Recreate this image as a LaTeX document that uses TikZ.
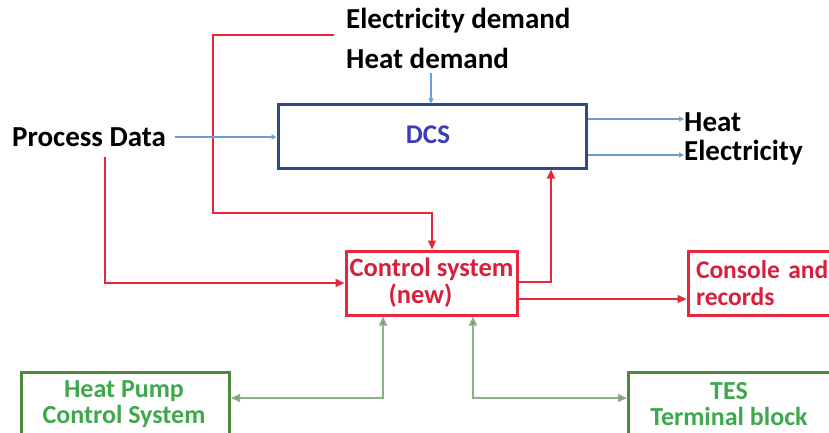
\documentclass[tikz,border=0pt]{standalone}
\usepackage{fontspec}
\setmainfont{Carlito}
\usetikzlibrary{arrows.meta}
\definecolor{cred}{HTML}{E8283A}
\definecolor{ctxtred}{HTML}{D8203C}
\definecolor{cblue}{HTML}{6A9FD4}
\definecolor{cdcs}{HTML}{2F4B8C}
\definecolor{cdcstxt}{HTML}{3B3CB8}
\definecolor{cgbox}{HTML}{4E8A3E}
\definecolor{cgtxt}{HTML}{3DA84C}
\definecolor{cgline}{HTML}{8FAF86}
\tikzset{
  lbl/.style={anchor=west, inner sep=0pt, font=\bfseries\fontsize{29}{33}\selectfont, text=black},
  redbox/.style={draw=cred, line width=3pt, inner sep=0pt, text=ctxtred, font=\bfseries\fontsize{26.5}{27}\selectfont},
  greenbox/.style={draw=cgbox, line width=3pt, inner sep=0pt, text=cgtxt, font=\bfseries\fontsize{26}{25.5}\selectfont},
  redarr/.style={draw=cred, line width=2pt, -{Triangle[length=9pt,width=8pt]}},
  bluearr/.style={draw=cblue, line width=1.4pt, -{Triangle[length=5pt,width=5pt]}},
  greenarr/.style={draw=cgline, line width=2pt, {Triangle[length=9pt,width=8pt,fill=cgbox]}-{Triangle[length=9pt,width=8pt,fill=cgbox]}},
}
\begin{document}
\begin{tikzpicture}[x=1pt,y=-1pt]
\useasboundingbox (0,0) rectangle (829,433);
\clip (0,0) rectangle (829,433);
% labels
\node[lbl] (elecd) at (346,21) {Electricity demand};
\node[lbl] (heatd) at (346,58) {Heat demand};
\node[lbl] (proc) at (12,137) {Process Data};
\node[lbl] (heat) at (684,122) {Heat};
\node[lbl] (elec) at (684,153) {Electricity};
% boxes
\node[draw=cdcs, line width=3pt, minimum width=308pt, minimum height=63pt, inner sep=0pt] (dcs) at (432,136.5) {};
\node[text=cdcstxt, font=\bfseries\fontsize{27}{30}\selectfont, inner sep=0pt] (dcstxt) at (428,135) {DCS};
\node[redbox, minimum width=171pt, minimum height=64pt, align=center] (ctrl) at (431.5,283) {Control system\\\hspace*{-22pt}(new)};
\node[redbox, minimum width=152pt, minimum height=64pt, align=left, text width=136pt, font=\bfseries\fontsize{25.5}{27}\selectfont] (cons) at (764,283) {Console and\\records};
\node[greenbox, minimum width=208pt, minimum height=74pt, anchor=north west] (hp) at (20,371) {};
\node[greenbox, draw=none, align=center] (hptxt) at (124,404) {Heat Pump\\Control System};
\node[greenbox, minimum width=202pt, minimum height=74pt, anchor=north west] (tes) at (627,371) {};
\node[greenbox, draw=none, align=center] (testxt) at (729,404) {TES\\Terminal block};
% coordinates
\coordinate (r1) at (334,35);
\coordinate (pdown) at (105,157);
\coordinate (hdsrc) at (431,73);
\coordinate (pdsrc) at (175,137);
% connectors
\draw[redarr] (r1) -- (213,35) -- (213,213) -- (432,213) -- (ctrl.north -| 432,0);
\draw[bluearr] (hdsrc) -- (dcs.north -| hdsrc);
\draw[bluearr] (pdsrc) -- (dcs.west |- pdsrc);
\draw[redarr] (pdown) -- (105,283) -- (ctrl.west);
\draw[redarr] (ctrl.east |- 0,282) -- (551,282) -- (dcs.south -| 551,0);
\draw[redarr] (ctrl.east |- 0,299) -- (cons.west |- 0,299);
\draw[bluearr] (dcs.east |- 0,119) -- (heat.west |- 0,119);
\draw[bluearr] (dcs.east |- 0,155) -- (elec.west |- 0,155);
\draw[greenarr] (ctrl.south -| 383,0) -- (383,398) -- (hp.east |- 0,398);
\draw[greenarr] (ctrl.south -| 473,0) -- (473,398) -- (tes.west |- 0,398);
\end{tikzpicture}
\end{document}
